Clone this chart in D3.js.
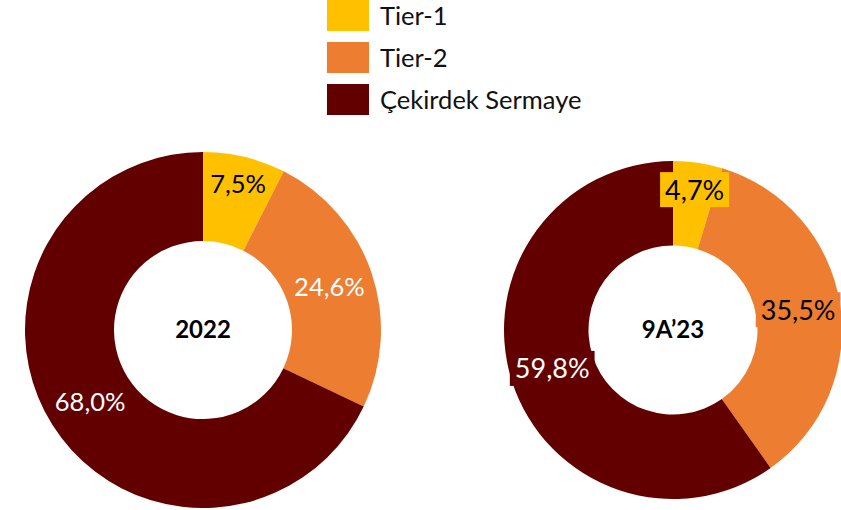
<!DOCTYPE html>
<html>
<head>
<meta charset="utf-8">
<script src="https://cdn.jsdelivr.net/npm/d3@7"></script>
<style>
  html, body { margin: 0; padding: 0; background: #fff; }
  svg { display: block; font-family: Lato, "Open Sans", sans-serif; }
</style>
</head>
<body>
<svg id="chart" width="841" height="510"></svg>
<script>
// Capital composition (share of total, %)
const categories = ["Tier-1", "Tier-2", "Çekirdek Sermaye"];
const periods = ["2022", "9A’23"];
const values2022 = [7.5, 24.6, 68.0];
const values9A23 = [4.7, 35.5, 59.8];
const colors = ["#FFC000", "#ED7D31", "#620000"];

const svg = d3.select("#chart");
const fmt = v => d3.format(".1f")(v).replace(".", ",") + "%";

// Legend
const legend = svg.append("g").attr("transform", "translate(327,0)");
categories.forEach((c, i) => {
  const row = legend.append("g").attr("transform", `translate(0,${i * 42})`);
  row.append("rect").attr("width", 42).attr("height", 31).attr("fill", colors[i]);
  row.append("text")
    .attr("x", 53).attr("y", 25)
    .attr("font-size", 25.5).attr("fill", "#111")
    .text(c);
});

// Donut renderer
function donut(values, title, opts) {
  const g = svg.append("g").attr("transform", `translate(${opts.cx},${opts.cy})`);
  const pie = d3.pie().sort(null).value(d => d)(values);
  const arc = d3.arc().innerRadius(opts.r * 0.5).outerRadius(opts.r);

  g.selectAll("path.slice").data(pie).join("path")
    .attr("class", "slice")
    .attr("d", arc)
    .attr("fill", (d, i) => colors[i]);

  pie.forEach((d, i) => {
    let [x, y] = arc.centroid(d);
    if (i === 0) { x += opts.nudge[0]; y += opts.nudge[1]; }
    const lg = g.append("g").attr("transform", `translate(${x},${y})`);
    const t = lg.append("text")
      .attr("text-anchor", "middle")
      .attr("dy", "0.37em")
      .attr("font-size", opts.fontSize)
      .attr("fill", opts.textColors[i])
      .text(fmt(values[i]));
    if (opts.boxes) {
      const bb = t.node().getBBox();
      const h = 35;
      lg.insert("rect", "text")
        .attr("x", bb.x - 5).attr("y", -h / 2)
        .attr("width", bb.width + 10).attr("height", h)
        .attr("fill", colors[i]);
    }
  });

  g.append("text")
    .attr("text-anchor", "middle")
    .attr("dy", "0.35em")
    .attr("font-size", 24)
    .attr("font-weight", "bold")
    .attr("fill", "#000")
    .text(title);
}

donut(values2022, periods[0], {
  cx: 203, cy: 330, r: 178, fontSize: 25.5, boxes: false,
  nudge: [4, -17], textColors: ["#000", "#fff", "#fff"]
});
donut(values9A23, periods[1], {
  cx: 673, cy: 330, r: 169, fontSize: 27, boxes: true,
  nudge: [3, -15], textColors: ["#000", "#000", "#fff"]
});
</script>
</body>
</html>
